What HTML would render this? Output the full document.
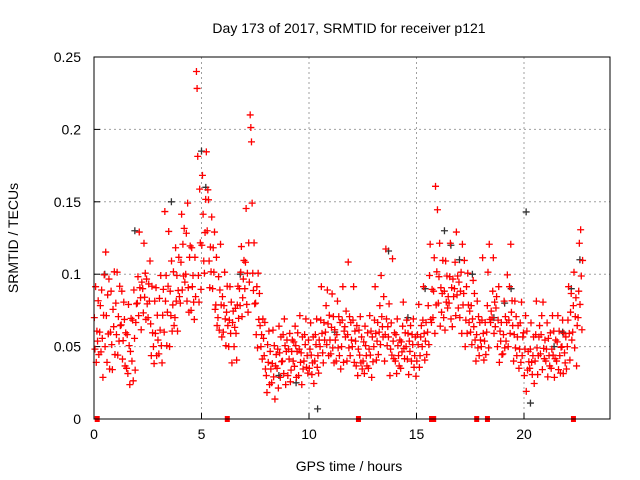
<!DOCTYPE html>
<html><head><meta charset="utf-8"><style>
body{margin:0;background:#fff;}
svg{display:block;font-family:"Liberation Sans",sans-serif;}
</style></head><body>
<svg id="chart" width="640" height="480">
<text x="349" y="33" font-size="14" text-anchor="middle">Day 173 of 2017, SRMTID for receiver p121</text>
<text x="349" y="471" font-size="14" text-anchor="middle">GPS time / hours</text>
<text transform="translate(18,238) rotate(-90)" font-size="14" text-anchor="middle">SRMTID / TECUs</text>
<g id="grid"></g><g id="ticks"></g><g id="marks"></g>
<rect x="94" y="57" width="516" height="362" fill="none" stroke="#000" stroke-width="1"/>
</svg>
<script>
const xTicks=[0,5,10,15,20];
const yTicks=[0,0.05,0.1,0.15,0.2,0.25];
const yTickLabels=["0","0.05","0.1","0.15","0.2","0.25"];
const binStart=0, binWidth=0.25;
const redBins=[
[.07,.05,.09,.04,.06,.055,.08,.045],[.06,.08,.045,.09,.055,.03,.07,.1],[.05,.117,.07,.04,.085,.06,.095,.035],[.06,.09,.05,.035,.075,.065,.1,.045],
[.08,.06,.1,.045,.07,.055,.09,.065],[.065,.09,.04,.055,.08,.07,.035,.06],[.035,.06,.03,.08,.05,.025,.045,.07],[.04,.07,.025,.09,.055,.035,.065,.08],
[.08,.1,.07,.13,.09,.085,.06,.095],[.09,.075,.12,.085,.1,.07,.095,.08],[.07,.095,.08,.11,.065,.045,.09,.06],[.05,.04,.08,.06,.09,.045,.07,.055],
[.045,.085,.06,.1,.05,.04,.07,.09],[.06,.145,.08,.1,.05,.075,.09,.13],[.05,.09,.07,.11,.06,.08,.1,.065],[.07,.12,.08,.1,.06,.09,.11,.085],
[.08,.11,.14,.09,.12,.1,.13,.095],[.1,.13,.08,.15,.09,.075,.11,.12],[.075,.12,.09,.1,.08,.07,.11,.085],[.24,.23,.18,.1,.08,.16,.12,.09],
[.12,.17,.14,.11,.1,.13,.15,.185],[.13,.16,.15,.11,.09,.12,.1,.14],[.09,.12,.1,.13,.075,.08,.11,.065],[.07,.1,.06,.09,.12,.08,.055,.085],
[.06,.08,.1,.07,.05,.075,.09,.065],[.05,.07,.09,.06,.08,.04,.065,.075],[.05,.065,.075,.06,.04,.08,.09,.07],[.09,.08,.1,.12,.07,.085,.095,.11],
[.09,.11,.144,.08,.1,.075,.12,.095],[.21,.203,.19,.15,.1,.09,.12,.08],[.08,.06,.09,.05,.1,.07,.085,.065],[.05,.06,.04,.07,.055,.045,.065,.035],
[.03,.02,.05,.04,.06,.025,.045,.035],[.025,.04,.06,.03,.05,.015,.035,.045],[.035,.05,.02,.065,.045,.03,.055,.04],[.04,.06,.03,.07,.05,.025,.045,.055],
[.03,.05,.04,.06,.025,.035,.045,.055],[.04,.055,.035,.065,.05,.03,.045,.06],[.03,.05,.07,.04,.045,.025,.055,.035],[.04,.06,.05,.07,.035,.045,.03,.055],
[.035,.05,.065,.045,.03,.04,.055,.025],[.04,.06,.05,.07,.035,.045,.03,.055],[.05,.07,.09,.06,.045,.04,.065,.055],[.06,.08,.05,.09,.065,.045,.07,.055],
[.045,.065,.085,.05,.07,.04,.06,.055],[.04,.06,.08,.05,.07,.045,.065,.035],[.05,.07,.09,.04,.06,.065,.055,.075],[.04,.06,.107,.05,.07,.045,.065,.055],
[.05,.07,.09,.04,.06,.055,.035,.065],[.03,.05,.06,.045,.07,.04,.055,.035],[.04,.055,.03,.065,.05,.045,.035,.06],[.035,.05,.07,.045,.06,.03,.055,.04],
[.05,.07,.09,.06,.04,.055,.065,.045],[.06,.08,.05,.1,.07,.065,.055,.085],[.04,.06,.116,.07,.05,.065,.055,.08],[.03,.05,.065,.045,.11,.055,.04,.06],
[.04,.06,.03,.07,.05,.045,.035,.055],[.035,.055,.045,.065,.08,.05,.04,.06],[.05,.07,.04,.06,.03,.055,.045,.065],[.04,.06,.05,.07,.035,.045,.055,.03],
[.04,.06,.05,.08,.035,.045,.055,.065],[.05,.07,.09,.06,.04,.055,.065,.045],[.06,.08,.05,.1,.12,.07,.065,.09],[.07,.09,.11,.06,.16,.08,.1,.145],
[.08,.1,.12,.065,.09,.075,.085,.11],[.07,.09,.06,.11,.08,.1,.075,.085],[.08,.1,.12,.07,.09,.065,.095,.085],[.09,.11,.07,.13,.085,.1,.075,.095],
[.07,.09,.1,.06,.12,.08,.085,.11],[.05,.07,.09,.06,.1,.08,.065,.075],[.06,.08,.05,.07,.095,.065,.085,.055],[.04,.06,.08,.05,.07,.045,.065,.055],
[.05,.07,.11,.06,.04,.055,.065,.045],[.06,.08,.1,.05,.12,.07,.065,.075],[.07,.09,.11,.06,.08,.065,.075,.085],[.05,.07,.09,.04,.06,.055,.065,.045],
[.045,.06,.08,.05,.07,.055,.065,.1],[.05,.07,.09,.06,.12,.075,.08,.065],[.04,.06,.08,.05,.07,.045,.055,.065],[.035,.05,.065,.04,.08,.045,.055,.06],
[.03,.05,.07,.02,.06,.035,.045,.04],[.035,.05,.065,.04,.03,.045,.055,.025],[.04,.06,.08,.05,.03,.045,.055,.065],[.045,.06,.07,.035,.08,.05,.04,.055],
[.04,.05,.065,.03,.055,.045,.035,.06],[.035,.05,.07,.045,.06,.03,.04,.055],[.04,.055,.07,.035,.06,.045,.03,.05],[.05,.07,.03,.06,.045,.04,.055,.035],
[.05,.07,.09,.06,.04,.075,.085,.055],[.06,.08,.1,.05,.07,.085,.035,.065],[.07,.09,.12,.08,.13,.1,.06,.11]];
const blackTimes=[0.5,1.9,3.6,5.0,5.2,6.8,8.6,10.4,11.2,13.7,14.6,16.3,17.0,18.6,19.4,20.1,20.3,21.4,22.6,9.4,15.4,16.6,17.6,19.1,21.8,22.2];
const blackValues=[.1,.13,.15,.185,.16,.1,.03,.007,.06,.116,.07,.13,.11,.07,.09,.143,.011,.05,.11,.025,.09,.12,.1,.08,.06,.09];
const flagTimes=[0.15,6.2,12.3,15.7,15.8,17.8,18.3,22.3];
const X0=94,X1=610,Y0=419,Y1=57,XMAX=24,YMAX=0.25;
const jitterPx=[0,2.5,-2,1.3,-1,1.8,-2.4,0.7];
function sx(t){return X0+(X1-X0)*t/XMAX;}
function sy(v){return Y0-(Y0-Y1)*v/YMAX;}
const NS="http://www.w3.org/2000/svg";
const grid=document.getElementById('grid'),ticks=document.getElementById('ticks'),marks=document.getElementById('marks');
function mk(tag,attrs,parent){const e=document.createElementNS(NS,tag);for(const k in attrs)e.setAttribute(k,attrs[k]);parent.appendChild(e);return e;}
xTicks.forEach(t=>{
 const x=sx(t);
 if(t>0){const g=mk('line',{x1:x,x2:x,y1:Y0,y2:Y1,stroke:'#a0a0a0','stroke-dasharray':'2,3'},grid);
 
 }
 const l=mk('text',{x:x,y:Y0+20,'font-size':14,'text-anchor':'middle'},ticks);l.textContent=t;
 
 
 mk('line',{x1:x,x2:x,y1:Y0,y2:Y0-6,stroke:'#000'},ticks);
});
yTicks.forEach((v,i)=>{
 const y=sy(v);
 if(v>0&&v<YMAX){const g=mk('line',{x1:X0,x2:X1,y1:y,y2:y,stroke:'#a0a0a0','stroke-dasharray':'2,3'},grid);
 
 }
 const l=mk('text',{x:X0-13,y:y+5,'font-size':14,'text-anchor':'end'},ticks);l.textContent=yTickLabels[i];
 
 
 mk('line',{x1:X0,x2:X0+6,y1:y,y2:y,stroke:'#000'},ticks);
});
function plus(t,v,color,name,dy){
 const x=sx(t),y=sy(v)+(dy||0);
 const p=mk('path',{d:`M${x-3.5},${y}h7M${x},${y-3.5}v7`,stroke:color,'stroke-width':1.3,fill:'none'},marks);
 
 
}
blackTimes.forEach((t,i)=>plus(t,blackValues[i],'#333','black-point',0));
redBins.forEach((vals,b)=>{vals.forEach((v,j)=>plus(binStart+b*binWidth+0.015+j*0.03,v,'#f00','red-point',jitterPx[j]));});
flagTimes.forEach(t=>{
 const r=mk('rect',{x:sx(t)-2.5,y:Y0-3,width:5,height:6,fill:'#f00'},marks);
 
 
});
</script>
</body></html>
